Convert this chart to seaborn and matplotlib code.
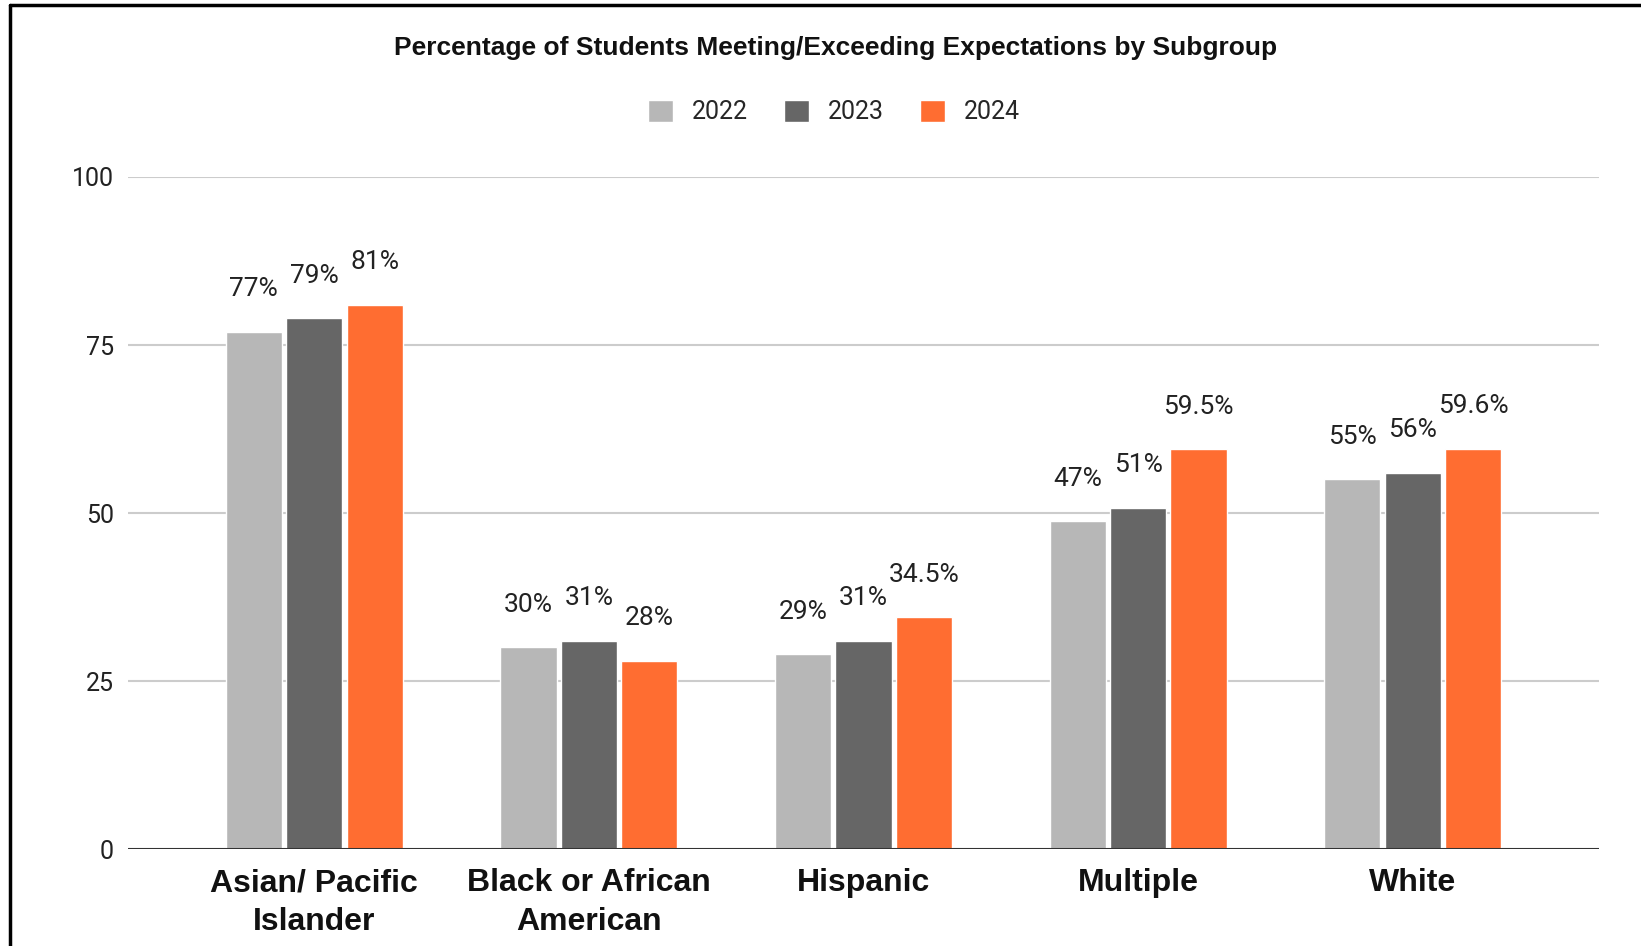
import matplotlib
matplotlib.use("Agg")
import matplotlib.pyplot as plt
import matplotlib.lines as mlines
import numpy as np
import pandas as pd
import seaborn as sns

# data
subgroups = ["Asian/ Pacific\nIslander", "Black or African\nAmerican", "Hispanic", "Multiple", "White"]
years = ["2022", "2023", "2024"]
values_2022 = [77, 30, 29, 48.8, 55]
values_2023 = [79, 31, 31, 50.8, 56]
values_2024 = [81, 28, 34.5, 59.5, 59.6]
labels_2022 = ["77%", "30%", "29%", "47%", "55%"]
labels_2023 = ["79%", "31%", "31%", "51%", "56%"]
labels_2024 = ["81%", "28%", "34.5%", "59.5%", "59.6%"]
colors = {"2022": "#b7b7b7", "2023": "#666666", "2024": "#ff6d31"}

df = pd.DataFrame({
    "subgroup": subgroups * 3,
    "year": [y for y in years for _ in subgroups],
    "value": values_2022 + values_2023 + values_2024,
})
bar_labels = [labels_2022, labels_2023, labels_2024]

sns.set_theme(style="white")
plt.rcParams["font.family"] = ["Roboto", "DejaVu Sans"]

fig = plt.figure(figsize=(16.41, 9.46), dpi=100)
ax = fig.add_axes([0.078, 0.1025, 0.8964, 0.7104])

sns.barplot(data=df, x="subgroup", y="value", hue="year", palette=colors,
            width=0.66, gap=0.07, saturation=1, ax=ax)

for cont, labs in zip(ax.containers, bar_labels):
    ax.bar_label(cont, labels=labs, padding=22, fontsize=19, color="#222222")

ax.set_ylim(0, 100)
ax.set_xlim(-0.678, 4.678)
ax.set_yticks([0, 25, 50, 75, 100])
ax.yaxis.grid(True, color="#cccccc", linewidth=1.5)
ax.set_axisbelow(True)
ax.axhline(0, color="#333333", linewidth=2.2, zorder=5)
for s in ax.spines.values():
    s.set_visible(False)
ax.set_xlabel("")
ax.set_ylabel("")
ax.tick_params(axis="y", length=0, pad=10, labelsize=18, labelcolor="#222222")
ax.tick_params(axis="x", length=0, pad=14)
for t in ax.get_xticklabels():
    t.set_fontfamily(["Liberation Sans", "DejaVu Sans"])
    t.set_fontweight("bold")
    t.set_fontsize(23)
    t.set_linespacing(1.35)
    t.set_color("#111111")

handles, labels = ax.get_legend_handles_labels()
ax.get_legend().remove()
fig.legend(handles, labels, loc="center", bbox_to_anchor=(0.508, 0.8816), ncol=3,
           frameon=False, fontsize=18, handlelength=1.0, handleheight=1.0,
           handletextpad=0.75, columnspacing=1.45)

fig.text(0.509, 0.949, "Percentage of Students Meeting/Exceeding Expectations by Subgroup",
         ha="center", va="center", fontsize=19, fontweight="bold",
         family=["Liberation Sans", "DejaVu Sans"], color="#111111")

# frame lines along the top and left edge
fig.add_artist(mlines.Line2D([0.0061, 1.0], [0.9947, 0.9947], color="black", linewidth=2.5))
fig.add_artist(mlines.Line2D([0.0061, 0.0061], [0.0, 0.9947], color="black", linewidth=2.5))

fig.savefig("out.png", dpi=100)
